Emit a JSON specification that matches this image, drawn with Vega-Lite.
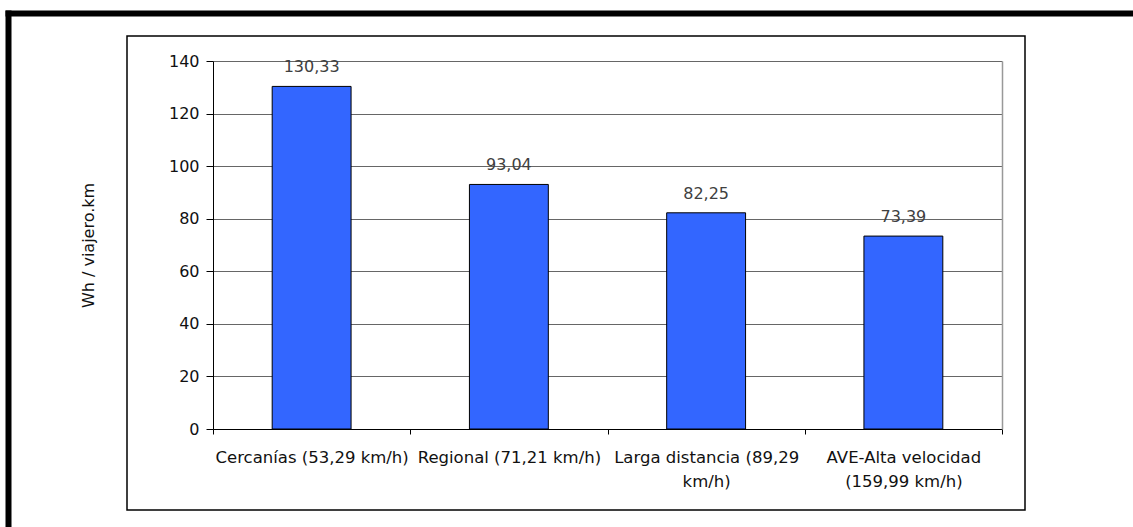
{
  "$schema": "https://vega.github.io/schema/vega-lite/v6.json",
  "width": 898,
  "height": 474,
  "autosize": {"type": "none"},
  "padding": {"left": 127, "top": 36, "right": 108, "bottom": 17},
  "background": "white",
  "config": {
    "view": {"stroke": "#000000", "strokeWidth": 1.5},
    "font": "DejaVu Sans",
    "locale": {"number": {"decimal": ",", "thousands": ".", "grouping": [3], "currency": ["", " €"]}}
  },
  "data": {
    "values": [
      {"tipo": "Cercanías (53,29 km/h)", "valor": 130.33},
      {"tipo": "Regional (71,21 km/h)", "valor": 93.04},
      {"tipo": "Larga distancia (89,29 km/h)", "valor": 82.25},
      {"tipo": "AVE-Alta velocidad (159,99 km/h)", "valor": 73.39}
    ]
  },
  "layer": [
    {
      "layer": [
        {
          "mark": {"type": "bar", "fill": "#3366FF", "stroke": "#000000", "strokeWidth": 1, "width": {"band": 0.4}},
          "encoding": {
            "x": {
              "field": "tipo", "type": "nominal", "sort": null,
              "scale": {"range": [86, 875], "paddingInner": 0, "paddingOuter": 0},
              "axis": {
                "orient": "bottom", "offset": -81, "title": null,
                "tickBand": "extent", "tickSize": 5, "tickColor": "#000", "domainColor": "#000",
                "labelAngle": 0, "labelFontSize": 16.5, "labelColor": "#111", "labelPadding": 15,
                "labelLineHeight": 24, "labelLimit": 0, "labelOverlap": false, "labelBound": false,
                "labelExpr": "datum.value == 'Larga distancia (89,29 km/h)' ? ['Larga distancia (89,29', 'km/h)'] : datum.value == 'AVE-Alta velocidad (159,99 km/h)' ? ['AVE-Alta velocidad', '(159,99 km/h)'] : datum.value"
              }
            },
            "y": {
              "field": "valor", "type": "quantitative",
              "scale": {"domain": [0, 140], "range": [393, 25], "nice": false},
              "axis": {
                "orient": "left", "offset": -86, "title": "Wh / viajero.km",
                "values": [0, 20, 40, 60, 80, 100, 120, 140],
                "grid": true, "gridColor": "#666666", "gridWidth": 1,
                "tickSize": 7, "tickColor": "#000", "domainColor": "#000",
                "labelFontSize": 16, "labelColor": "#111", "labelPadding": 7,
                "titleFontSize": 16, "titleFontWeight": "normal", "titleColor": "#111", "titlePadding": 72
              }
            }
          }
        },
        {
          "mark": {"type": "text", "fontSize": 16, "fill": "#404040", "baseline": "alphabetic", "dy": -14},
          "encoding": {
            "x": {"field": "tipo", "type": "nominal", "sort": null},
            "y": {
              "field": "valor", "type": "quantitative",
              "axis": {
                "orient": "right", "offset": -23, "title": null, "labels": false, "ticks": false,
                "grid": false, "domainColor": "#999999", "domainWidth": 1.5
              }
            },
            "text": {"field": "valor", "type": "quantitative", "format": ".2f"}
          }
        }
      ],
      "resolve": {"axis": {"y": "independent"}}
    },
    {
      "mark": {"type": "point", "opacity": 0},
      "encoding": {
        "x": {
          "field": "valor", "type": "quantitative",
          "scale": {"domain": [0, 1], "range": [-122, 1006], "nice": false, "zero": false},
          "axis": {"orient": "top", "offset": 23, "title": null, "labels": false, "ticks": false, "grid": false, "domainColor": "#000", "domainWidth": 6}
        },
        "y": {
          "field": "valor", "type": "quantitative",
          "scale": {"domain": [0, 1], "range": [491, -26], "nice": false, "zero": false},
          "axis": {"orient": "left", "offset": 119, "title": null, "labels": false, "ticks": false, "grid": false, "domainColor": "#000", "domainWidth": 6}
        }
      }
    }
  ],
  "resolve": {"scale": {"x": "independent", "y": "independent"}, "axis": {"x": "independent", "y": "independent"}}
}
